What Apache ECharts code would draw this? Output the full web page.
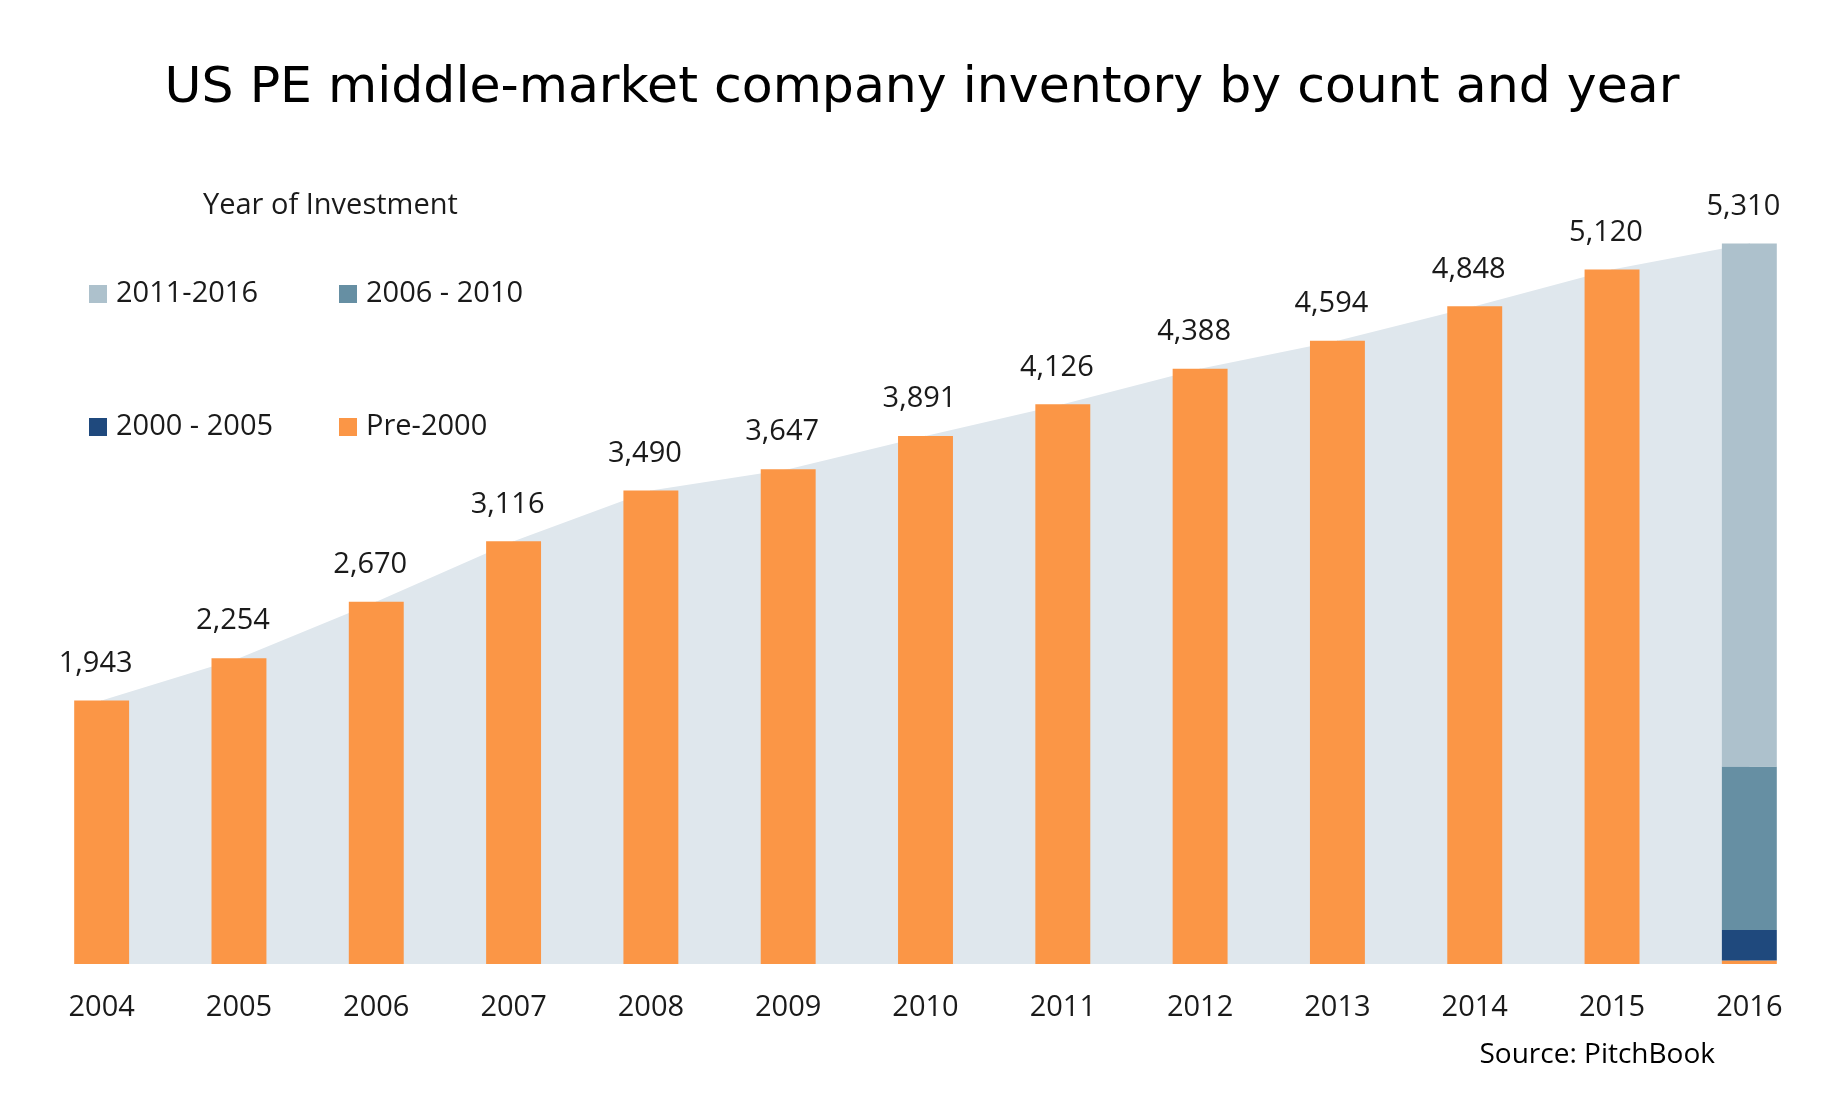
<!DOCTYPE html>
<html>
<head>
<meta charset="utf-8">
<script src="https://cdn.jsdelivr.net/npm/echarts@6/dist/echarts.min.js"></script>
<style>
  html, body { margin: 0; padding: 0; background: #fff; }
  #main { width: 1844px; height: 1100px; }
</style>
</head>
<body>
<div id="main"></div>
<script>
const years = ['2004', '2005', '2006', '2007', '2008', '2009', '2010', '2011', '2012', '2013', '2014', '2015', '2016'];
const totals = [1943, 2254, 2670, 3116, 3490, 3647, 3891, 4126, 4388, 4594, 4848, 5120, 5310];
// 2016 inventory split by year of investment (bottom to top)
const cohorts = ['Pre-2000', '2000 - 2005', '2006 - 2010', '2011-2016'];
const cohort2016 = [25, 225, 1205, 3855];

const cohortColors = ['#fb9646', '#1f497d', '#668fa3', '#adc1cc'];
const areaColor = '#dfe7ed';
const textColor = '#1a1a1a';
const font = 'Open Sans';

const last = years.length - 1;

// orange bars for 2004-2015, the 2016 bar is stacked by cohort
const totalBars = totals.map((v, i) => i === last ? '-' : v);
const cohortSeries = cohorts.map((name, k) => ({
    name: name,
    type: 'bar',
    stack: 'inv',
    barWidth: '40%',
    data: years.map((y, i) => i === last ? cohort2016[k] : '-'),
    itemStyle: { color: cohortColors[k] },
    z: 3
}));

const legendText = { fontFamily: font, fontSize: 29, color: textColor, lineHeight: 30, padding: [0, 0, 0, 4] };

const chart = echarts.init(document.getElementById('main'));
const option = {
    backgroundColor: '#fff',
    animation: false,
    title: [{
        text: 'US PE middle-market company inventory by count and year',
        left: 'center',
        top: 58,
        textStyle: { fontFamily: 'DejaVu Sans', fontSize: 50.5, fontWeight: 'normal', color: '#000' }
    }, {
        text: 'Year of Investment',
        left: 198,
        top: 186,
        textStyle: { fontFamily: font, fontSize: 29, fontWeight: 'normal', color: textColor }
    }, {
        text: 'Source: PitchBook',
        right: 124,
        top: 1036,
        textStyle: { fontFamily: font, fontSize: 28, fontWeight: 'normal', color: '#000' }
    }],
    legend: [{
        data: ['2011-2016', '2000 - 2005'],
        orient: 'vertical',
        left: 84,
        top: 274,
        itemWidth: 18,
        itemHeight: 18,
        itemGap: 103,
        icon: 'rect',
        textStyle: legendText
    }, {
        data: ['2006 - 2010', 'Pre-2000'],
        orient: 'vertical',
        left: 334,
        top: 274,
        itemWidth: 18,
        itemHeight: 18,
        itemGap: 103,
        icon: 'rect',
        textStyle: legendText
    }],
    grid: { left: 33, right: 26, top: 150, bottom: 136 },
    xAxis: {
        type: 'category',
        data: years,
        axisLine: { show: false },
        axisTick: { show: false },
        axisLabel: { fontFamily: font, fontSize: 29, color: textColor, margin: 29 }
    },
    yAxis: {
        type: 'value',
        min: 0,
        max: 6000,
        show: false,
        splitLine: { show: false }
    },
    series: [{
        name: 'Total',
        type: 'line',
        data: totals,
        symbol: 'circle',
        symbolSize: 1,
        itemStyle: { color: areaColor },
        lineStyle: { width: 0 },
        areaStyle: { color: areaColor, opacity: 1 },
        label: {
            show: true,
            position: 'top',
            distance: 22,
            offset: [-6, 0],
            fontFamily: font,
            fontSize: 29,
            color: textColor,
            formatter: p => p.value.toLocaleString('en-US')
        },
        z: 1
    }, {
        name: 'Inventory',
        type: 'bar',
        stack: 'inv',
        barWidth: '40%',
        data: totalBars,
        itemStyle: { color: cohortColors[0] },
        z: 3
    }].concat(cohortSeries)
};

chart.setOption(option);
window.addEventListener('resize', () => chart.resize());
</script>
</body>
</html>
